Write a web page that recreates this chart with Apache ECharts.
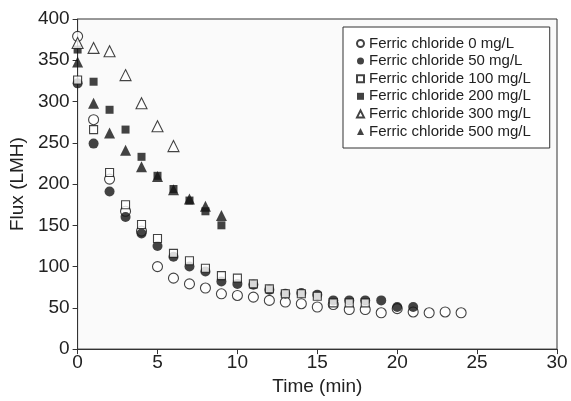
<!DOCTYPE html>
<html>
<head>
<meta charset="utf-8">
<script src="https://cdn.jsdelivr.net/npm/echarts@6/dist/echarts.min.js"></script>
<style>
  html, body { margin: 0; padding: 0; background: #fff; }
  #chart { width: 571px; height: 401px; }
</style>
</head>
<body>
<div id="chart"></div>
<script>
  // 各浓度下的通量数据 (时间 min, 通量 LMH)
  const seriesNames = [
    'Ferric chloride 0 mg/L',
    'Ferric chloride 50 mg/L',
    'Ferric chloride 100 mg/L',
    'Ferric chloride 200 mg/L',
    'Ferric chloride 300 mg/L',
    'Ferric chloride 500 mg/L'
  ];

  const time0 = [0, 1, 2, 3, 4, 5, 6, 7, 8, 9, 10, 11, 12, 13, 14, 15, 16, 17, 18, 19, 20, 21, 22, 23, 24];
  const flux0 = [379, 278, 206, 167, 143, 100, 86, 79, 74, 67, 65, 63, 59, 57, 55, 51, 54, 48, 48, 44, 49, 45, 44, 45, 44];

  const time50 = [0, 1, 2, 3, 4, 5, 6, 7, 8, 9, 10, 11, 12, 13, 14, 15, 16, 17, 18, 19, 20, 21];
  const flux50 = [322, 249, 191, 160, 140, 125, 112, 100, 94, 82, 79, 78, 72, 67, 68, 66, 59, 59, 59, 59, 51, 51];

  const time100 = [0, 1, 2, 3, 4, 5, 6, 7, 8, 9, 10, 11, 12, 13, 14, 15, 16, 17, 18];
  const flux100 = [326, 266, 214, 175, 151, 134, 116, 107, 98, 89, 86, 79, 73, 67, 67, 64, 56, 56, 56];

  const time200 = [0, 1, 2, 3, 4, 5, 6, 7, 8, 9];
  const flux200 = [363, 324, 290, 266, 233, 210, 194, 180, 167, 150];

  const time300 = [0, 1, 2, 3, 4, 5, 6];
  const flux300 = [371, 365, 361, 332, 298, 270, 246];

  const time500 = [0, 1, 2, 3, 4, 5, 6, 7, 8, 9];
  const flux500 = [348, 298, 262, 241, 221, 209, 193, 182, 173, 162];

  const xTicks = [0, 5, 10, 15, 20, 25, 30];
  const yTicks = [0, 50, 100, 150, 200, 250, 300, 350, 400];

  const pairs = (xs, ys) => xs.map((x, i) => [x, ys[i]]);

  const ink = '#141414';
  const openStyle = { color: '#ffffff', borderColor: ink, borderWidth: 1.1 };
  const filledStyle = { color: ink, borderColor: ink, borderWidth: 0 };

  const makeSeries = (name, data, symbol, size, style) => ({
    name: name,
    type: 'scatter',
    data: data,
    symbol: symbol,
    symbolSize: size,
    itemStyle: style,
    emphasis: { disabled: true }
  });

  const chart = echarts.init(document.getElementById('chart'));

  const option = {
    animation: false,
    backgroundColor: '#ffffff',
    textStyle: { fontFamily: 'Liberation Sans, Arial, sans-serif' },
    grid: {
      left: 76,
      top: 19,
      width: 481,
      height: 338,
      show: true,
      backgroundColor: '#fafafa',
      borderColor: '#333',
      borderWidth: 1
    },
    legend: {
      orient: 'vertical',
      left: 343,
      top: 27,
      padding: [9, 19, 9, 13],
      borderColor: '#333',
      borderWidth: 1,
      backgroundColor: '#ffffff',
      itemWidth: 7,
      itemHeight: 7,
      itemGap: 2.6,
      textStyle: { fontSize: 15, color: '#222', lineHeight: 15, padding: [0, 0, 0, 0] },
      data: seriesNames
    },
    xAxis: {
      type: 'value',
      min: 0,
      max: 30,
      interval: 5,
      name: 'Time (min)',
      nameLocation: 'middle',
      nameGap: 19,
      nameTextStyle: { fontSize: 19, color: '#222' },
      axisLine: { lineStyle: { color: '#333', width: 1 } },
      axisTick: { show: true, length: 5, lineStyle: { color: '#333' } },
      axisLabel: {
        fontSize: 19,
        color: '#222',
        margin: 4,
        customValues: xTicks
      },
      splitLine: { show: false }
    },
    yAxis: {
      type: 'value',
      min: 0,
      max: 400,
      interval: 50,
      name: 'Flux (LMH)',
      nameLocation: 'middle',
      nameGap: 46,
      nameTextStyle: { fontSize: 19, color: '#222' },
      axisLine: { show: true, lineStyle: { color: '#333', width: 1 } },
      axisTick: { show: true, length: 5, lineStyle: { color: '#333' } },
      axisLabel: {
        fontSize: 19,
        color: '#222',
        margin: 8,
        customValues: yTicks
      },
      splitLine: { show: false }
    },
    series: [
      makeSeries(seriesNames[0], pairs(time0, flux0), 'circle', 10, openStyle),
      makeSeries(seriesNames[1], pairs(time50, flux50), 'circle', 10, filledStyle),
      makeSeries(seriesNames[2], pairs(time100, flux100), 'rect', 8, openStyle),
      makeSeries(seriesNames[3], pairs(time200, flux200), 'rect', 8, filledStyle),
      makeSeries(seriesNames[4], pairs(time300, flux300), 'triangle', 11, openStyle),
      makeSeries(seriesNames[5], pairs(time500, flux500), 'triangle', 11, filledStyle)
    ]
  };

  chart.setOption(option);
</script>
</body>
</html>
